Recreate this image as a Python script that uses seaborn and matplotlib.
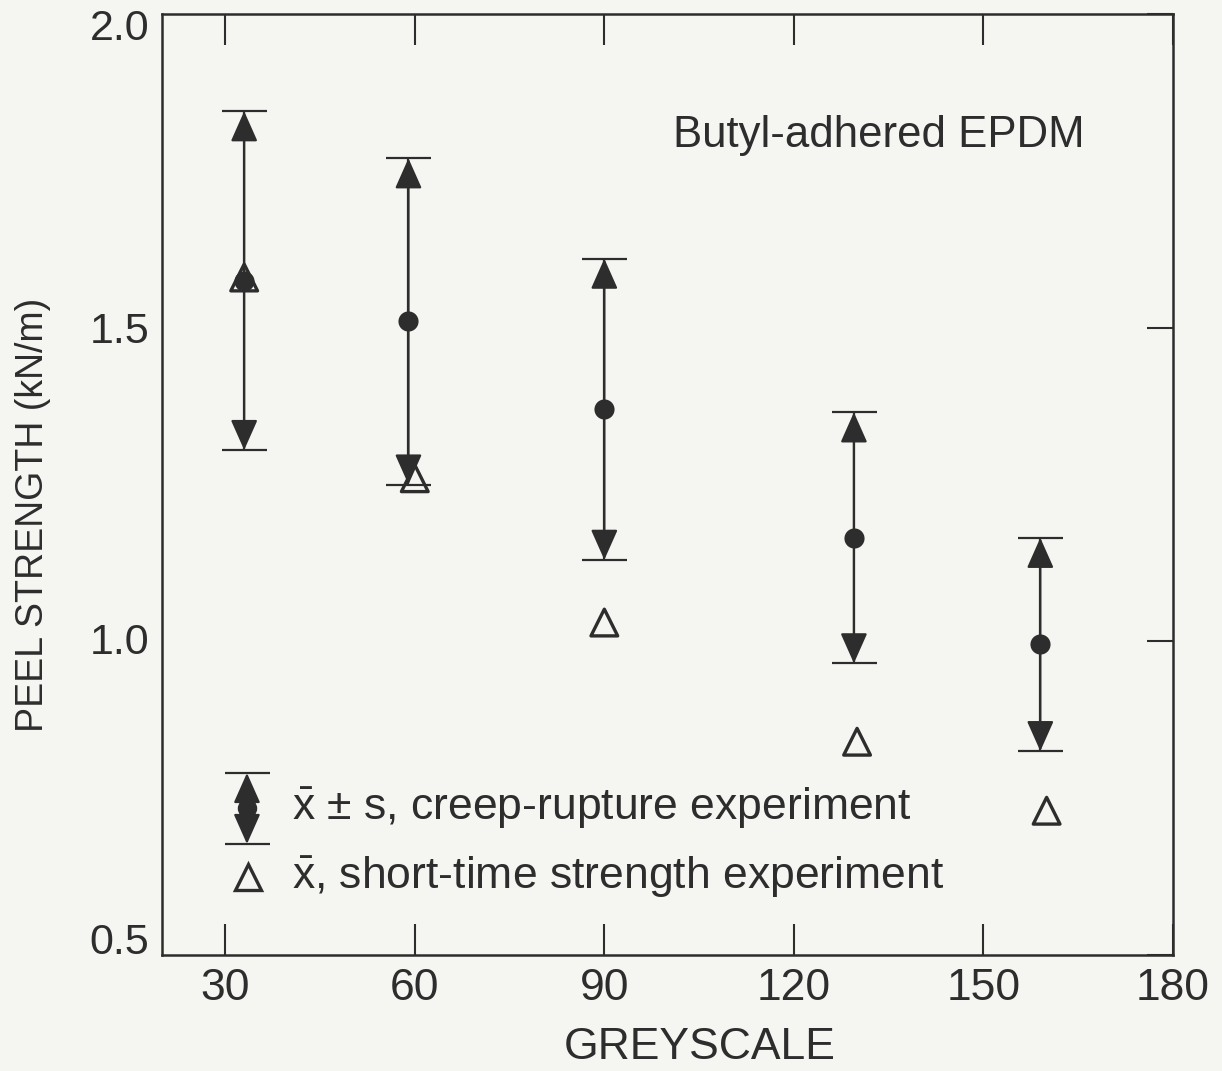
import matplotlib
matplotlib.use("Agg")
import matplotlib.pyplot as plt
import matplotlib.transforms as mtransforms
import pandas as pd
import seaborn as sns

# Creep-rupture experiment: mean peel strength and standard deviation
greyscale_creep = [33, 59, 90, 129.5, 159]
creep_mean = [1.575, 1.51, 1.37, 1.165, 0.995]
creep_sd = [0.27, 0.26, 0.24, 0.20, 0.17]

# Short-time strength experiment: mean peel strength
greyscale_short = [33, 60, 90, 130, 160]
short_mean = [1.58, 1.26, 1.03, 0.84, 0.73]

x_ticks = [30, 60, 90, 120, 150, 180]
y_ticks = [0.5, 1.0, 1.5, 2.0]
y_tick_labels = ["0.5", "1.0", "1.5", "2.0"]

INK = "#2d2d2d"
PAPER = "#f5f5f2"

sns.set_theme(style="ticks")
plt.rcParams["font.family"] = ["Liberation Sans", "DejaVu Sans"]
plt.rcParams["mathtext.fontset"] = "custom"
plt.rcParams["mathtext.rm"] = "Liberation Sans"
plt.rcParams["text.color"] = INK

creep = pd.DataFrame({"greyscale": greyscale_creep, "mean": creep_mean, "sd": creep_sd})
short = pd.DataFrame({"greyscale": greyscale_short, "mean": short_mean})

fig = plt.figure(figsize=(12.22, 10.71), dpi=100, facecolor=PAPER)
ax = fig.add_axes([0.1326, 0.1083, 0.8273, 0.8786], facecolor=PAPER)

# error bars: caps and stems
ax.errorbar(creep["greyscale"], creep["mean"], yerr=creep["sd"], fmt="none",
            ecolor=INK, elinewidth=1.6, capsize=16.2, capthick=1.6, zorder=2)

# arrowheads pointing from the mean to each cap
arrow_style = "-|>,head_length=0.45,head_width=0.2"
for x, m, s in zip(creep["greyscale"], creep["mean"], creep["sd"]):
    for end in (m + s, m - s):
        ax.annotate("", xy=(x, end), xytext=(x, m),
                    arrowprops=dict(arrowstyle=arrow_style, mutation_scale=42,
                                    color=INK, lw=1.6, shrinkA=0, shrinkB=0),
                    zorder=3)

sns.scatterplot(data=creep, x="greyscale", y="mean", ax=ax, marker="o", s=210,
                color=INK, edgecolor=INK, linewidth=0, zorder=4, legend=False)
sns.scatterplot(data=short, x="greyscale", y="mean", ax=ax, marker="^", s=370,
                facecolor="none", edgecolor=INK, linewidth=2.4, zorder=5, legend=False)

ax.set_xlim(20, 180)
ax.set_ylim(0.5, 2.0)
ax.set_xticks(x_ticks)
ax.set_xticklabels([str(t) for t in x_ticks])
ax.set_yticks(y_ticks)
ax.set_yticklabels(y_tick_labels)

ax.tick_params(axis="x", which="both", direction="in", length=22, width=1.5,
               top=True, bottom=True, pad=9, colors=INK, labelsize=32)
ax.tick_params(axis="y", which="both", direction="in", length=19, width=1.5,
               left=False, right=True, pad=9, colors=INK, labelsize=31,
               labelleft=True, labelright=False)

# nudge the end labels of the value axis inward, as set in the original figure
label_shift_px = {"2.0": -10, "1.0": 3, "0.5": 17}
for lab in ax.get_yticklabels():
    dy = label_shift_px.get(lab.get_text(), 0)
    if dy:
        lab.set_transform(lab.get_transform() +
                          mtransforms.ScaledTranslation(0, dy / 100, fig.dpi_scale_trans))

for sp in ax.spines.values():
    sp.set_visible(True)
    sp.set_linewidth(1.8)
    sp.set_color(INK)

ax.set_xlabel("GREYSCALE", fontsize=32, color=INK, va="center", ha="center")
ax.xaxis.set_label_coords(0.532, -0.098)
ax.set_ylabel("PEEL STRENGTH (kN/m)", fontsize=27, color=INK, va="center", ha="center")
ax.yaxis.set_label_coords(-0.1276, 0.4676)

ax.text(0.5054, 0.8714, "Butyl-adhered EPDM", transform=ax.transAxes,
        fontsize=31.5, ha="left", va="center", color=INK)

# legend keys drawn in axes fraction
kx, k_mid, k_hi, k_lo = 0.084, 0.156, 0.1934, 0.118
for yy in (k_hi, k_lo):
    ax.plot([kx], [yy], marker="_", ms=32.4, mew=1.6, color=INK,
            transform=ax.transAxes, zorder=3)
    ax.annotate("", xy=(kx, yy), xytext=(kx, k_mid), xycoords="axes fraction",
                textcoords="axes fraction",
                arrowprops=dict(arrowstyle=arrow_style, mutation_scale=42,
                                color=INK, lw=1.6, shrinkA=0, shrinkB=0))
ax.plot([kx], [k_mid], marker="o", ms=14, color=INK, mew=0,
        transform=ax.transAxes, zorder=4)
ax.plot([0.085], [0.083], marker="^", ms=19, mfc="none", mec=INK, mew=2.4,
        transform=ax.transAxes, zorder=4)

ax.text(0.1286, 0.156, r"$\bar{\mathrm{x}}$ ± s, creep-rupture experiment",
        transform=ax.transAxes, fontsize=32, ha="left", va="center", color=INK)
ax.text(0.1286, 0.083, r"$\bar{\mathrm{x}}$, short-time strength experiment",
        transform=ax.transAxes, fontsize=32, ha="left", va="center", color=INK)

fig.savefig("out.png", dpi=100, facecolor=PAPER)
